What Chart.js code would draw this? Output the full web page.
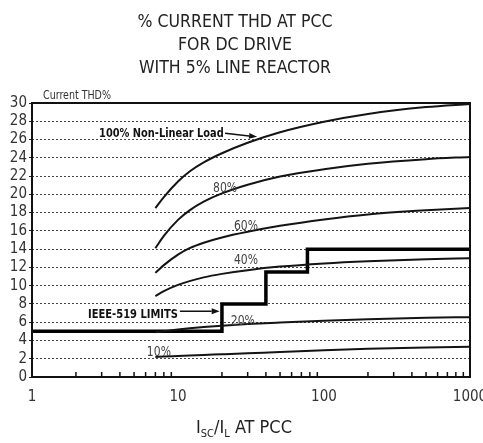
<!DOCTYPE html>
<html>
<head>
<meta charset="utf-8">
<script src="https://cdn.jsdelivr.net/npm/chart.js@4.4.0/dist/chart.umd.min.js"></script>
<style>
  html, body { margin: 0; padding: 0; background: #fff; }
  #wrap { width: 483px; height: 443px; position: relative; }
</style>
</head>
<body>
<div id="wrap"><canvas id="thd"></canvas></div>
<script>
const NARROW = "'Liberation Sans Narrow', 'DejaVu Sans Condensed', 'Arial Narrow', sans-serif";

// Text
const titleLines = ['% CURRENT THD AT PCC', 'FOR DC DRIVE', 'WITH 5% LINE REACTOR'];
const yAxisCaption = 'Current THD%';
const xTickLabels = [1, 10, 100, 1000];
const loadLabels = ['100% Non-Linear Load', '80%', '60%', '40%', '20%', '10%'];
const limitLabel = 'IEEE-519 LIMITS';

// Short-circuit ratio (Isc/IL) sample points shared by all load curves
const scRatio = [7, 8, 10, 12, 15, 20, 30, 50, 100, 200, 500, 1000];

// Current THD % for each share of non-linear load
const thd100 = [18.5, 19.7, 21.4, 22.5, 23.5, 24.5, 25.65, 26.8, 27.95, 28.8, 29.55, 29.9];
const thd80  = [14.1, 15.45, 17.2, 18.25, 19.2, 20.1, 21.05, 21.95, 22.75, 23.35, 23.85, 24.1];
const thd60  = [11.4, 12.25, 13.4, 14.1, 14.7, 15.28, 15.9, 16.55, 17.25, 17.8, 18.25, 18.5];
const thd40  = [8.85, 9.4, 10.08, 10.5, 10.91, 11.29, 11.7, 12.09, 12.44, 12.68, 12.9, 13.0];
const thd20  = [4.9, 5.02, 5.2, 5.33, 5.47, 5.62, 5.8, 5.97, 6.17, 6.33, 6.48, 6.55];
const thd10  = [2.2, 2.24, 2.3, 2.35, 2.41, 2.49, 2.6, 2.73, 2.92, 3.08, 3.24, 3.3];

// IEEE-519 current distortion limit steps
const ieeeRatio = [1, 20, 40, 77, 1000];
const ieeeLimit = [5, 8, 11.5, 14, 14];

const toPoints = (xs, ys) => xs.map((v, i) => ({ x: v, y: ys[i] }));

const curveStyle = {
  borderColor: '#141414',
  borderWidth: 2,
  pointRadius: 0,
  fill: false,
  showLine: true,
  cubicInterpolationMode: 'monotone'
};

const datasets = [
  { label: '100%', data: toPoints(scRatio, thd100), ...curveStyle },
  { label: '80%',  data: toPoints(scRatio, thd80),  ...curveStyle },
  { label: '60%',  data: toPoints(scRatio, thd60),  ...curveStyle },
  { label: '40%',  data: toPoints(scRatio, thd40),  ...curveStyle },
  { label: '20%',  data: toPoints(scRatio, thd20),  ...curveStyle },
  { label: '10%',  data: toPoints(scRatio, thd10),  ...curveStyle },
  {
    label: 'IEEE-519',
    data: toPoints(ieeeRatio, ieeeLimit),
    borderColor: '#000',
    borderWidth: 3.5,
    pointRadius: 0,
    showLine: true,
    stepped: true,
    borderJoinStyle: 'miter',
    fill: false
  }
];

function arrow(ctx, x1, y1, x2, y2) {
  const ang = Math.atan2(y2 - y1, x2 - x1);
  const len = 8, half = 3;
  ctx.beginPath();
  ctx.moveTo(x1, y1);
  ctx.lineTo(x2 - len * Math.cos(ang), y2 - len * Math.sin(ang));
  ctx.stroke();
  ctx.beginPath();
  ctx.moveTo(x2, y2);
  ctx.lineTo(x2 - len * Math.cos(ang) - half * Math.sin(ang), y2 - len * Math.sin(ang) + half * Math.cos(ang));
  ctx.lineTo(x2 - len * Math.cos(ang) + half * Math.sin(ang), y2 - len * Math.sin(ang) - half * Math.cos(ang));
  ctx.closePath();
  ctx.fill();
}

// Text squeezed horizontally so the lettering reads condensed
function narrowText(ctx, text, x, y, sx, align) {
  ctx.save();
  const w = ctx.measureText(text).width * sx;
  let left = x;
  if (align === 'center') left = x - w / 2;
  ctx.translate(left, y);
  ctx.scale(sx, 1);
  ctx.textAlign = 'left';
  ctx.fillText(text, 0, 0);
  ctx.restore();
}

// Frame, inward minor ticks, curve labels and axis captions
const decor = {
  id: 'decor',
  beforeDatasetsDraw(chart) {
    const { ctx, chartArea: a, scales: { x } } = chart;
    ctx.save();
    ctx.strokeStyle = '#111';
    ctx.lineWidth = 1.5;
    x.ticks.forEach(t => {
      if (xTickLabels.includes(t.value)) return;
      const px = x.getPixelForValue(t.value);
      ctx.beginPath();
      ctx.moveTo(px, a.bottom);
      ctx.lineTo(px, a.bottom - 5);
      ctx.stroke();
    });
    ctx.restore();
  },
  afterDraw(chart) {
    const { ctx, chartArea: a, scales: { x, y } } = chart;
    const px = v => x.getPixelForValue(v);
    const py = v => y.getPixelForValue(v);
    ctx.save();

    // plot frame
    ctx.strokeStyle = '#111';
    ctx.lineWidth = 2;
    ctx.strokeRect(a.left, a.top, a.right - a.left, a.bottom - a.top);

    // y axis caption
    ctx.fillStyle = '#333';
    ctx.font = `12px ${NARROW}`;
    ctx.textBaseline = 'middle';
    narrowText(ctx, yAxisCaption, 43, 96, 0.88, 'left');

    // bold callouts with arrows
    ctx.fillStyle = '#111';
    ctx.strokeStyle = '#111';
    ctx.lineWidth = 1.5;
    ctx.font = `bold 13px ${NARROW}`;
    narrowText(ctx, loadLabels[0], px(2.88), py(26.7), 0.84, 'left');
    arrow(ctx, px(21), py(26.7), px(34.8), py(26.3));
    narrowText(ctx, limitLabel, px(2.42), py(6.8), 0.85, 'left');
    arrow(ctx, px(10.3), py(7.2), px(19.3), py(7.2));

    // load percentage labels
    ctx.fillStyle = '#444';
    ctx.font = `14px ${NARROW}`;
    const spots = [[21.0, 20.7], [29.2, 16.5], [29.2, 12.8], [27.8, 6.1], [7.4, 2.7]];
    spots.forEach((s, i) => narrowText(ctx, loadLabels[i + 1], px(s[0]), py(s[1]), 0.86, 'center'));

    // x axis caption: I_SC / I_L AT PCC
    const big = `18px ${NARROW}`, small = `11px ${NARROW}`;
    const parts = [['I', big, 0], ['SC', small, 4], ['/I', big, 0], ['L', small, 4], [' AT PCC', big, 0]];
    let total = 0;
    parts.forEach(p => { ctx.font = p[1]; total += ctx.measureText(p[0]).width; });
    let cx = 244 - total / 2;
    ctx.fillStyle = '#222';
    ctx.textAlign = 'left';
    ctx.textBaseline = 'alphabetic';
    parts.forEach(p => {
      ctx.font = p[1];
      ctx.fillText(p[0], cx, 433 + p[2]);
      cx += ctx.measureText(p[0]).width;
    });
    ctx.restore();
  }
};

new Chart(document.getElementById('thd'), {
  type: 'scatter',
  data: { datasets },
  options: {
    responsive: true,
    maintainAspectRatio: false,
    animation: false,
    layout: { padding: { left: 0, right: 13, top: 0, bottom: 0 } },
    plugins: {
      legend: { display: false },
      tooltip: { enabled: false },
      title: {
        display: true,
        text: titleLines,
        color: '#222',
        font: { family: NARROW, size: 17.5, weight: 'normal', lineHeight: 23 / 17.5 },
        padding: { top: 11, bottom: 23 }
      }
    },
    scales: {
      x: {
        type: 'logarithmic',
        min: 1,
        max: 1000,
        afterBuildTicks(scale) {
          const ticks = [];
          for (let d = 1; d < 1000; d *= 10) {
            for (let m = 1; m < 10; m++) ticks.push({ value: m * d });
          }
          ticks.push({ value: 1000 });
          scale.ticks = ticks;
        },
        afterFit(scale) {
          scale.height = 66;
          scale.paddingLeft = 0;
          scale.paddingRight = 0;
        },
        grid: { display: false, drawTicks: false },
        border: { display: false },
        ticks: {
          autoSkip: false,
          maxRotation: 0,
          padding: 11,
          color: '#333',
          font: { family: NARROW, size: 15 },
          callback: v => (xTickLabels.includes(v) ? String(v) : '')
        }
      },
      y: {
        min: 0,
        max: 30,
        afterFit(scale) {
          scale.width = 32;
          scale.paddingTop = 0;
          scale.paddingBottom = 0;
        },
        grid: {
          color: c => (c.tick && (c.tick.value === 0 || c.tick.value === 30)) ? 'rgba(0,0,0,0)' : '#444',
          lineWidth: 1,
          drawTicks: true,
          tickLength: 3,
          tickColor: '#222'
        },
        border: { display: false, dash: [2, 2] },
        ticks: {
          stepSize: 2,
          autoSkip: false,
          padding: 2,
          color: '#333',
          font: { family: NARROW, size: 15 }
        }
      }
    }
  },
  plugins: [decor]
});
</script>
</body>
</html>
